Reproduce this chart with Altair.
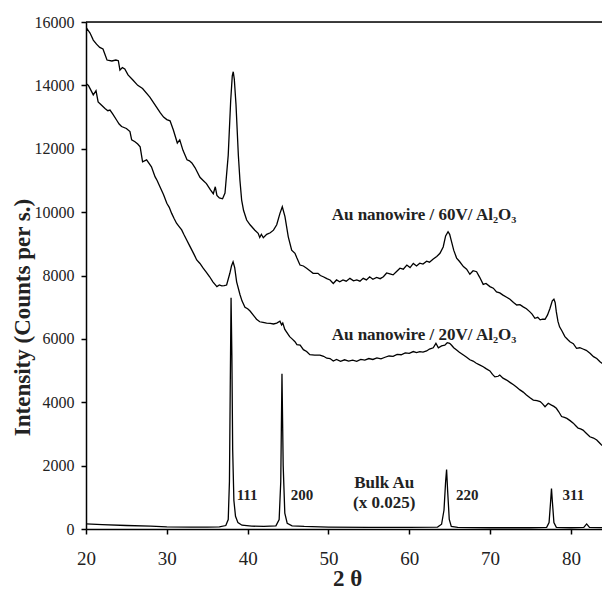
import altair as alt
import pandas as pd

# ---- 60 V nanowire curve ----
x60 = [20.0, 20.15, 20.5, 20.9, 21.3, 21.7, 22.1, 22.6, 23.2, 23.7, 24.0, 24.2, 24.5, 24.8, 25.2, 25.8,
       26.4, 27.0, 27.9, 28.5, 29.2, 29.6, 30.0, 30.4, 30.8, 31.3, 31.6, 32.0, 32.5, 32.8, 33.1, 33.5,
       34.1, 34.5, 34.9, 35.4, 35.75, 36.0, 36.2, 36.5, 36.9, 37.2, 37.6, 37.9, 38.1, 38.22, 38.35, 38.56,
       38.85, 39.05, 39.26, 39.5, 39.88, 40.3, 40.9, 41.3, 41.5, 41.7, 41.94, 42.36, 42.8, 43.2, 43.6, 44.0,
       44.29, 44.62, 45.03, 45.45, 45.86, 46.1, 46.48, 46.9, 47.3, 47.7, 48.1, 48.7, 49.0, 49.36, 49.8, 50.2,
       50.6, 51.0, 51.4, 51.8, 52.2, 52.66, 53.1, 53.5, 53.9, 54.3, 54.7, 55.1, 55.5, 55.96, 56.4, 56.8,
       57.2, 57.6, 58.0, 58.4, 58.85, 59.26, 59.7, 60.1, 60.5, 60.9, 61.3, 61.7, 62.15, 62.5, 62.97, 63.4,
       63.8, 64.2, 64.5, 64.8, 65.0, 65.24, 65.5, 65.86, 66.2, 66.7, 67.1, 67.5, 67.9, 68.33, 68.7, 69.15,
       69.5, 69.98, 70.4, 70.8, 71.2, 71.6, 72.0, 72.46, 72.9, 73.3, 73.7, 74.1, 74.5, 74.9, 75.2, 75.55,
       75.9, 76.2, 76.5, 76.8, 77.1, 77.4, 77.7, 77.9, 78.05, 78.2, 78.4, 78.6, 78.9, 79.26, 79.6, 79.88,
       80.3, 80.7, 81.1, 81.5, 81.9, 82.4, 82.8, 83.2, 83.6, 84.0, 84.2, 84.6]
y60 = [15700, 15780, 15650, 15430, 15300, 15200, 15150, 14800, 14770, 14800, 14780, 14480, 14560, 14520, 14330, 14170,
       14000, 13900, 13630, 13400, 13130, 13000, 12920, 12880, 12600, 12180, 12280, 11950, 11650, 11620, 11550, 11400,
       11100, 11000, 10900, 10700, 10580, 10800, 10530, 10450, 10420, 10600, 11800, 13500, 14300, 14430, 14200, 13400,
       11800, 11000, 10380, 10050, 9750, 9600, 9430, 9330, 9200, 9300, 9190, 9300, 9350, 9430, 9600, 9960,
       10170, 9860, 9220, 8800, 8700, 8550, 8330, 8300, 8230, 8150, 8070, 8070, 8000, 7960, 7900, 7860,
       7750, 7860, 7800, 7860, 7820, 7910, 7830, 7860, 7820, 7910, 7860, 7960, 7880, 7940, 7900, 7960,
       8080, 8050, 8020, 8120, 8230, 8200, 8330, 8250, 8380, 8300, 8390, 8360, 8450, 8420, 8520, 8600,
       8700, 8900, 9250, 9380, 9300, 9060, 8800, 8550, 8450, 8280, 8200, 8040, 8150, 8120, 7950, 7720,
       7750, 7650, 7600, 7480, 7450, 7380, 7320, 7250, 7150, 7070, 7080, 7010, 6950, 6860, 6780, 6650,
       6680, 6600, 6620, 6620, 6750, 6950, 7200, 7250, 7150, 6850, 6550, 6380, 6250, 6070, 5980, 5910,
       5850, 5700, 5720, 5680, 5640, 5540, 5440, 5380, 5280, 5200, 5120, 5110]

# ---- 20 V nanowire curve ----
x20 = [20.0, 20.3, 20.6, 20.9, 21.24, 21.5, 21.9, 22.35, 22.7, 22.97, 23.3, 23.8, 24.1, 24.4, 25.0, 25.44,
       25.65, 26.06, 26.4, 26.7, 27.0, 27.5, 28.1, 28.54, 28.8, 29.15, 29.6, 30.0, 30.3, 30.6, 30.9, 31.2,
       31.5, 31.84, 32.1, 32.46, 32.8, 33.1, 33.4, 33.7, 34.1, 34.5, 34.9, 35.3, 35.7, 36.2, 36.5, 36.8,
       37.1, 37.4, 37.8, 38.0, 38.2, 38.4, 38.64, 39.05, 39.3, 39.67, 40.0, 40.3, 40.7, 41.1, 41.5, 41.9,
       42.35, 42.8, 43.2, 43.6, 44.0, 44.2, 44.35, 44.6, 45.2, 45.5, 45.86, 46.1, 46.5, 46.9, 47.3, 47.7,
       48.3, 48.95, 49.4, 49.8, 50.2, 50.6, 51.0, 51.5, 52.0, 52.5, 53.0, 53.5, 54.0, 54.5, 55.0, 55.5,
       56.0, 56.5, 57.0, 57.5, 58.0, 58.5, 59.0, 59.5, 60.0, 60.5, 60.9, 61.3, 61.7, 62.15, 62.5, 62.97,
       63.3, 63.6, 64.0, 64.4, 64.7, 65.0, 65.24, 65.5, 65.86, 66.2, 66.7, 67.1, 67.5, 67.9, 68.3, 68.7,
       69.15, 69.5, 69.98, 70.3, 70.6, 71.0, 71.2, 71.6, 72.05, 72.5, 72.9, 73.3, 73.7, 74.1, 74.5, 74.9,
       75.35, 75.8, 76.2, 76.5, 76.8, 77.2, 77.6, 77.9, 78.2, 78.5, 78.85, 79.2, 79.5, 79.9, 80.3, 80.6,
       80.9, 81.2, 81.5, 81.9, 82.35, 82.8, 83.2, 83.5, 83.8, 84.1, 84.4, 84.6]
y20 = [14060, 14000, 13850, 13700, 13830, 13480, 13380, 13270, 13200, 13220, 13100, 12900, 12780, 12700, 12640, 12540,
       12280, 12220, 12150, 12060, 11590, 11650, 11430, 11120, 11000, 10800, 10550, 10280, 10150, 9960, 9800, 9650,
       9550, 9440, 9300, 9120, 8950, 8800, 8650, 8490, 8380, 8230, 8100, 7960, 7800, 7650, 7700, 7670,
       7680, 7700, 8070, 8300, 8430, 8250, 7800, 7400, 7200, 7000, 6950, 6880, 6750, 6620, 6540, 6520,
       6500, 6490, 6470, 6500, 6560, 6440, 6500, 6300, 6070, 6000, 5910, 5820, 5800, 5660, 5600, 5500,
       5490, 5490, 5450, 5390, 5380, 5300, 5350, 5290, 5340, 5300, 5330, 5290, 5350, 5330, 5380, 5350,
       5400, 5370, 5420, 5460, 5450, 5510, 5500, 5560, 5540, 5600, 5570, 5600, 5580, 5620, 5680, 5720,
       5860, 5720, 5780, 5800, 5880, 5860, 5800, 5720, 5650, 5580, 5490, 5420, 5340, 5300, 5230, 5180,
       5120, 5060, 4990, 4880, 4800, 4820, 4860, 4760, 4700, 4620, 4550, 4470, 4390, 4320, 4230, 4150,
       4070, 4050, 4020, 3950, 3860, 3970, 3910, 3870, 3810, 3700, 3550, 3520, 3490, 3420, 3340, 3260,
       3180, 3160, 3120, 3020, 2910, 2870, 2810, 2730, 2650, 2600, 2550, 2520]

# ---- Bulk Au (x 0.025) ----
xb = [20.0, 22.0, 25.0, 28.0, 30.0, 33.0, 35.0, 36.5, 37.3, 37.6, 37.75, 37.85, 37.95, 38.05, 38.15, 38.3,
      38.5, 38.8, 39.3, 40.5, 42.0, 43.5, 43.9, 44.1, 44.25, 44.4, 44.6, 44.9, 45.5, 47.0, 50.0, 55.0,
      60.0, 63.5, 64.0, 64.3, 64.5, 64.62, 64.75, 64.95, 65.2, 66.0, 70.0, 75.0, 77.0, 77.3, 77.5, 77.6,
      77.7, 77.9, 78.2, 80.0, 81.6, 81.95, 82.3, 84.6]
yb = [160, 140, 110, 90, 70, 60, 60, 70, 110, 300, 1500, 4500, 7300, 5500, 2500, 900,
      400, 200, 120, 90, 80, 100, 300, 1500, 4900, 2000, 500, 180, 100, 80, 60, 50,
      50, 60, 150, 600, 1500, 1880, 1200, 300, 80, 50, 40, 40, 50, 200, 900, 1280,
      900, 200, 50, 40, 50, 160, 50, 40]

# ---- annotations ----
curve_labels = ["Au nanowire / 60V/ Al₂O₃", "Au nanowire / 20V/ Al₂O₃"]
curve_label_x = [50.4, 50.4]
curve_label_y = [9760, 5950]

bulk_labels = ["Bulk Au", "(x 0.025)"]
bulk_label_x = [56.9, 56.9]
bulk_label_y = [1290, 660]

peak_labels = ["111", "200", "220", "311"]
peak_label_x = [38.64, 45.33, 65.78, 78.97]
peak_label_y = [915, 915, 915, 915]

x_ticks = [20, 30, 40, 50, 60, 70, 80]
y_ticks = [0, 2000, 4000, 6000, 8000, 10000, 12000, 14000, 16000]

W, H = 516, 507
FONT = "Liberation Serif"

df = pd.concat([
    pd.DataFrame({"x": x60, "y": y60, "s": "60V"}),
    pd.DataFrame({"x": x20, "y": y20, "s": "20V"}),
    pd.DataFrame({"x": xb, "y": yb, "s": "bulk"}),
], ignore_index=True)

xscale = alt.Scale(domain=[20, 83.85], nice=False, zero=False)
yscale = alt.Scale(domain=[0, 16000], nice=False, zero=False)

lines = alt.Chart(df).mark_line(color="black", strokeWidth=1.3, clip=True).encode(
    x=alt.X("x:Q", scale=xscale,
            axis=alt.Axis(values=x_ticks, title="2 θ", format="d", grid=False,
                          labelFont=FONT, labelFontSize=19, labelColor="#222",
                          labelPadding=15, labelFlush=False,
                          tickSize=5, tickColor="black", tickWidth=1.5,
                          domainColor="black", domainWidth=1.5,
                          titleFont=FONT, titleFontSize=23, titleFontWeight="bold",
                          titleColor="#222", titleBaseline="alphabetic",
                          titleX=261, titleY=56, titleAlign="center")),
    y=alt.Y("y:Q", scale=yscale,
            axis=alt.Axis(values=y_ticks, title="Intensity (Counts per s.)", format="d", grid=False,
                          labelFont=FONT, labelFontSize=16, labelColor="#222",
                          labelPadding=7, labelFlush=False,
                          tickSize=5, tickColor="black", tickWidth=1.5,
                          domainColor="black", domainWidth=1.5,
                          titleFont=FONT, titleFontSize=23, titleFontWeight="bold",
                          titleColor="#222", titleAngle=270, titleBaseline="middle",
                          titleAlign="center", titleX=-64, titleY=295)),
    detail="s:N",
    order="x:Q",
)

top_rule = alt.Chart(pd.DataFrame({"a": [0]})).mark_rule(color="black", strokeWidth=1.5).encode(
    x=alt.value(0), x2=alt.value(W), y=alt.value(0)
)

lab_df = pd.DataFrame({"t": curve_labels, "x": curve_label_x, "y": curve_label_y})
curve_text = alt.Chart(lab_df).mark_text(font=FONT, fontSize=17, fontWeight="bold", align="left",
                                         baseline="alphabetic", color="#222").encode(
    x=alt.X("x:Q", scale=xscale), y=alt.Y("y:Q", scale=yscale), text="t:N")

bulk_df = pd.DataFrame({"t": bulk_labels, "x": bulk_label_x, "y": bulk_label_y})
bulk_text = alt.Chart(bulk_df).mark_text(font=FONT, fontSize=17, fontWeight="bold", align="center",
                                         baseline="alphabetic", color="#222").encode(
    x=alt.X("x:Q", scale=xscale), y=alt.Y("y:Q", scale=yscale), text="t:N")

peak_df = pd.DataFrame({"t": peak_labels, "x": peak_label_x, "y": peak_label_y})
peak_text = alt.Chart(peak_df).mark_text(font=FONT, fontSize=15, fontWeight="bold", align="left",
                                         baseline="alphabetic", color="#222").encode(
    x=alt.X("x:Q", scale=xscale), y=alt.Y("y:Q", scale=yscale), text="t:N")

chart = alt.layer(lines, top_rule, curve_text, bulk_text, peak_text).properties(
    width=W, height=H,
    autosize=alt.AutoSizeParams(type="none"),
    padding={"left": 78, "top": 14, "right": 0, "bottom": 63},
).configure_view(stroke=None).configure(background="white")

chart.save("out.html", embed_options={"renderer": "svg", "actions": False})
